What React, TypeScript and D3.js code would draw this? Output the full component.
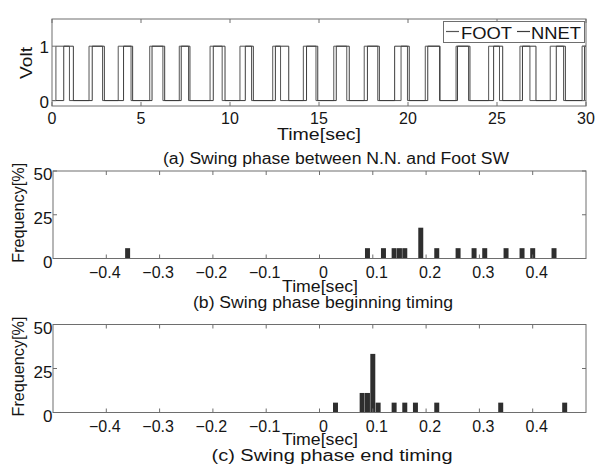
import React from 'react';
import * as d3 from 'd3';

const W = 596;
const H = 466;

// ---- Panel (a) data: transition times [sec] ----
const TIME_TICKS = [0, 5, 10, 15, 20, 25, 30];
const VOLT_TICKS = [0, 1];
const FOOT_ON = [0.22, 2.08, 3.72, 5.49, 7.15, 8.88, 10.56, 12.40, 14.12, 15.83, 17.54, 19.61, 20.97, 22.70, 24.53, 26.29, 27.99, 29.78];
const FOOT_OFF = [0.98, 2.84, 4.44, 6.23, 7.67, 9.56, 11.21, 12.84, 14.83, 16.56, 18.30, 19.97, 21.77, 23.40, 25.14, 26.85, 28.74];
const NNET_ON = [0.66, 2.26, 4.02, 5.62, 7.26, 9.06, 10.86, 12.55, 14.30, 15.97, 17.72, 19.25, 21.11, 22.78, 24.81, 26.43, 28.33, 29.92];
const NNET_OFF = [1.20, 2.94, 4.53, 6.33, 7.75, 9.72, 11.31, 13.30, 14.93, 16.70, 18.39, 20.07, 21.80, 23.48, 25.32, 27.19, 28.84];

// ---- Panels (b), (c) histogram data ----
const DIFF_TICKS = [-0.4, -0.3, -0.2, -0.1, 0, 0.1, 0.2, 0.3, 0.4];
const FREQ_TICKS = [0, 25, 50];
const BEGIN_BINS = [-0.36, 0.09, 0.12, 0.14, 0.15, 0.16, 0.19, 0.22, 0.26, 0.29, 0.31, 0.35, 0.38, 0.40, 0.44];
const BEGIN_FREQ = [5.9, 5.9, 5.9, 5.9, 5.9, 5.9, 17.6, 5.9, 5.9, 5.9, 5.9, 5.9, 5.9, 5.9, 5.9];
const END_BINS = [0.03, 0.08, 0.09, 0.10, 0.11, 0.14, 0.16, 0.18, 0.22, 0.34, 0.46];
const END_FREQ = [5.6, 11.1, 11.1, 33.3, 5.6, 5.6, 5.6, 5.6, 5.6, 5.6, 5.6];
const BIN_WIDTH = 0.01;

const FONT = '"Liberation Sans", Arial, sans-serif';
const AXIS = '#6e6e6e';
const TXT = '#151515';
const TICK = 4;

function stepPoints(on: number[], off: number[], end: number): [number, number][] {
  const pts: [number, number][] = [[0, 0]];
  on.forEach((t, i) => {
    pts.push([t, 1]);
    if (off[i] !== undefined) pts.push([off[i], 0]);
  });
  const last = pts[pts.length - 1];
  pts.push([end, last[1]]);
  return pts;
}

function fmt(v: number) {
  const s = d3.format('.1f')(Math.abs(v));
  if (v === 0) return '0';
  return v < 0 ? '\u2212' + s : s;
}

function PanelA() {
  const L = 52, R = 586, T = 19, B = 106;
  const x = d3.scaleLinear().domain([0, 30]).range([L, R]);
  const y = d3.scaleLinear().domain([-0.1, 1.5]).range([B, T]);
  const line = d3.line<[number, number]>().x(d => x(d[0])).y(d => y(d[1])).curve(d3.curveStepAfter);
  const foot = line(stepPoints(FOOT_ON, FOOT_OFF, 30)) || '';
  const nnet = line(stepPoints(NNET_ON, NNET_OFF, 30)) || '';
  return (
    <g>
      <rect x={L} y={T} width={R - L} height={B - T} fill="#fff" stroke="none" />
      <path d={foot} fill="none" stroke="#555" strokeWidth={1} />
      <path d={nnet} fill="none" stroke="#3c3c3c" strokeWidth={1} />
      {TIME_TICKS.map(t => (
        <g key={t}>
          <line x1={x(t)} x2={x(t)} y1={B} y2={B - TICK} stroke={AXIS} />
          <line x1={x(t)} x2={x(t)} y1={T} y2={T + TICK} stroke={AXIS} />
          <text x={x(t)} y={124} textAnchor="middle" fontSize={16} fill={TXT} fontFamily={FONT}>{t}</text>
        </g>
      ))}
      {VOLT_TICKS.map(v => (
        <g key={v}>
          <line x1={L} x2={L + TICK} y1={y(v)} y2={y(v)} stroke={AXIS} />
          <line x1={R} x2={R - TICK} y1={y(v)} y2={y(v)} stroke={AXIS} />
          <text x={49} y={y(v) + 1.5} textAnchor="end" dominantBaseline="central" fontSize={17} fill={TXT} fontFamily={FONT}>{v}</text>
        </g>
      ))}
      <rect x={L} y={T} width={R - L} height={B - T} fill="none" stroke={AXIS} strokeWidth={1} />
      {/* legend */}
      <rect x={443.5} y={21.5} width={141} height={21} fill="#fff" stroke={AXIS} strokeWidth={1} />
      <line x1={446} x2={459} y1={31.5} y2={31.5} stroke="#555" strokeWidth={1.2} />
      <text x={461} y={38.5} fontSize={16} fill={TXT} fontFamily={FONT} textLength={51} lengthAdjust="spacingAndGlyphs">FOOT</text>
      <line x1={517} x2={530} y1={31.5} y2={31.5} stroke="#3c3c3c" strokeWidth={1.2} />
      <text x={531} y={38.5} fontSize={16} fill={TXT} fontFamily={FONT} textLength={50} lengthAdjust="spacingAndGlyphs">NNET</text>
      {/* labels */}
      <text transform="translate(32,63) rotate(-90)" textAnchor="middle" fontSize={17} fill={TXT} fontFamily={FONT} textLength={32} lengthAdjust="spacingAndGlyphs">Volt</text>
      <text x={319} y={140} textAnchor="middle" fontSize={16} fill={TXT} fontFamily={FONT} textLength={84} lengthAdjust="spacingAndGlyphs">Time[sec]</text>
      <text x={336} y={164} textAnchor="middle" fontSize={16} fill={TXT} fontFamily={FONT} textLength={346} lengthAdjust="spacingAndGlyphs">(a) Swing phase between N.N. and Foot SW</text>
    </g>
  );
}

function Histogram({ top, bottom, bins, freq, tickBase, timeBase, caption, captionBase, captionX, captionLen }: {
  top: number; bottom: number; bins: number[]; freq: number[]; tickBase: number; timeBase: number;
  caption: string; captionBase: number; captionX: number; captionLen: number;
}) {
  const L = 53, R = 586;
  const x = d3.scaleLinear().domain([-0.5, 0.5]).range([L, R]);
  const y = d3.scaleLinear().domain([0, 50]).range([bottom, top]);
  const bw = x(BIN_WIDTH) - x(0) - 0.35;
  return (
    <g>
      <line x1={x(-0.48)} x2={x(0.465)} y1={bottom} y2={bottom} stroke="#999" />
      {bins.map((b, i) => (
        <rect key={i} x={x(b) - bw / 2} y={y(freq[i])} width={bw} height={bottom - y(freq[i])} fill="#2e2e2e" />
      ))}
      {DIFF_TICKS.map(t => (
        <g key={t}>
          <line x1={x(t)} x2={x(t)} y1={bottom} y2={bottom - TICK} stroke={AXIS} />
          <line x1={x(t)} x2={x(t)} y1={top} y2={top + TICK} stroke={AXIS} />
          <text x={x(t) + (t < 0 ? -1.5 : 4)} y={tickBase} textAnchor="middle" fontSize={16} fill={TXT} fontFamily={FONT}>{fmt(t)}</text>
        </g>
      ))}
      {FREQ_TICKS.map(v => (
        <g key={v}>
          <line x1={L} x2={L + TICK} y1={y(v)} y2={y(v)} stroke={AXIS} />
          <line x1={R} x2={R - TICK} y1={y(v)} y2={y(v)} stroke={AXIS} />
          <text x={52.5} y={y(v) + 3.5} textAnchor="end" dominantBaseline="central" fontSize={17} fill={TXT} fontFamily={FONT}>{v}</text>
        </g>
      ))}
      <rect x={L} y={top} width={R - L} height={bottom - top} fill="none" stroke={AXIS} strokeWidth={1} />
      <text transform={`translate(24,${(top + bottom) / 2 - 2}) rotate(-90)`} textAnchor="middle" fontSize={16} fill={TXT} fontFamily={FONT} textLength={100} lengthAdjust="spacingAndGlyphs">Frequency[%]</text>
      <text x={320} y={timeBase} textAnchor="middle" fontSize={16} fill={TXT} fontFamily={FONT} textLength={76} lengthAdjust="spacingAndGlyphs">Time[sec]</text>
      <text x={captionX} y={captionBase} textAnchor="middle" fontSize={16} fill={TXT} fontFamily={FONT} textLength={captionLen} lengthAdjust="spacingAndGlyphs">{caption}</text>
    </g>
  );
}

export default function App() {
  return (
    <svg width={W} height={H} viewBox={`0 0 ${W} ${H}`} style={{ position: 'absolute', left: 0, top: 0, display: 'block', background: '#fff' }}>
      <rect x={0} y={0} width={W} height={H} fill="#fff" />
      <PanelA />
      <Histogram top={171} bottom={258.5} bins={BEGIN_BINS} freq={BEGIN_FREQ} tickBase={277.5} timeBase={292}
        caption="(b) Swing phase beginning timing" captionBase={308} captionX={323} captionLen={260} />
      <Histogram top={324.5} bottom={412.5} bins={END_BINS} freq={END_FREQ} tickBase={431.5} timeBase={445}
        caption="(c) Swing phase end timing" captionBase={461} captionX={332} captionLen={241} />
    </svg>
  );
}
